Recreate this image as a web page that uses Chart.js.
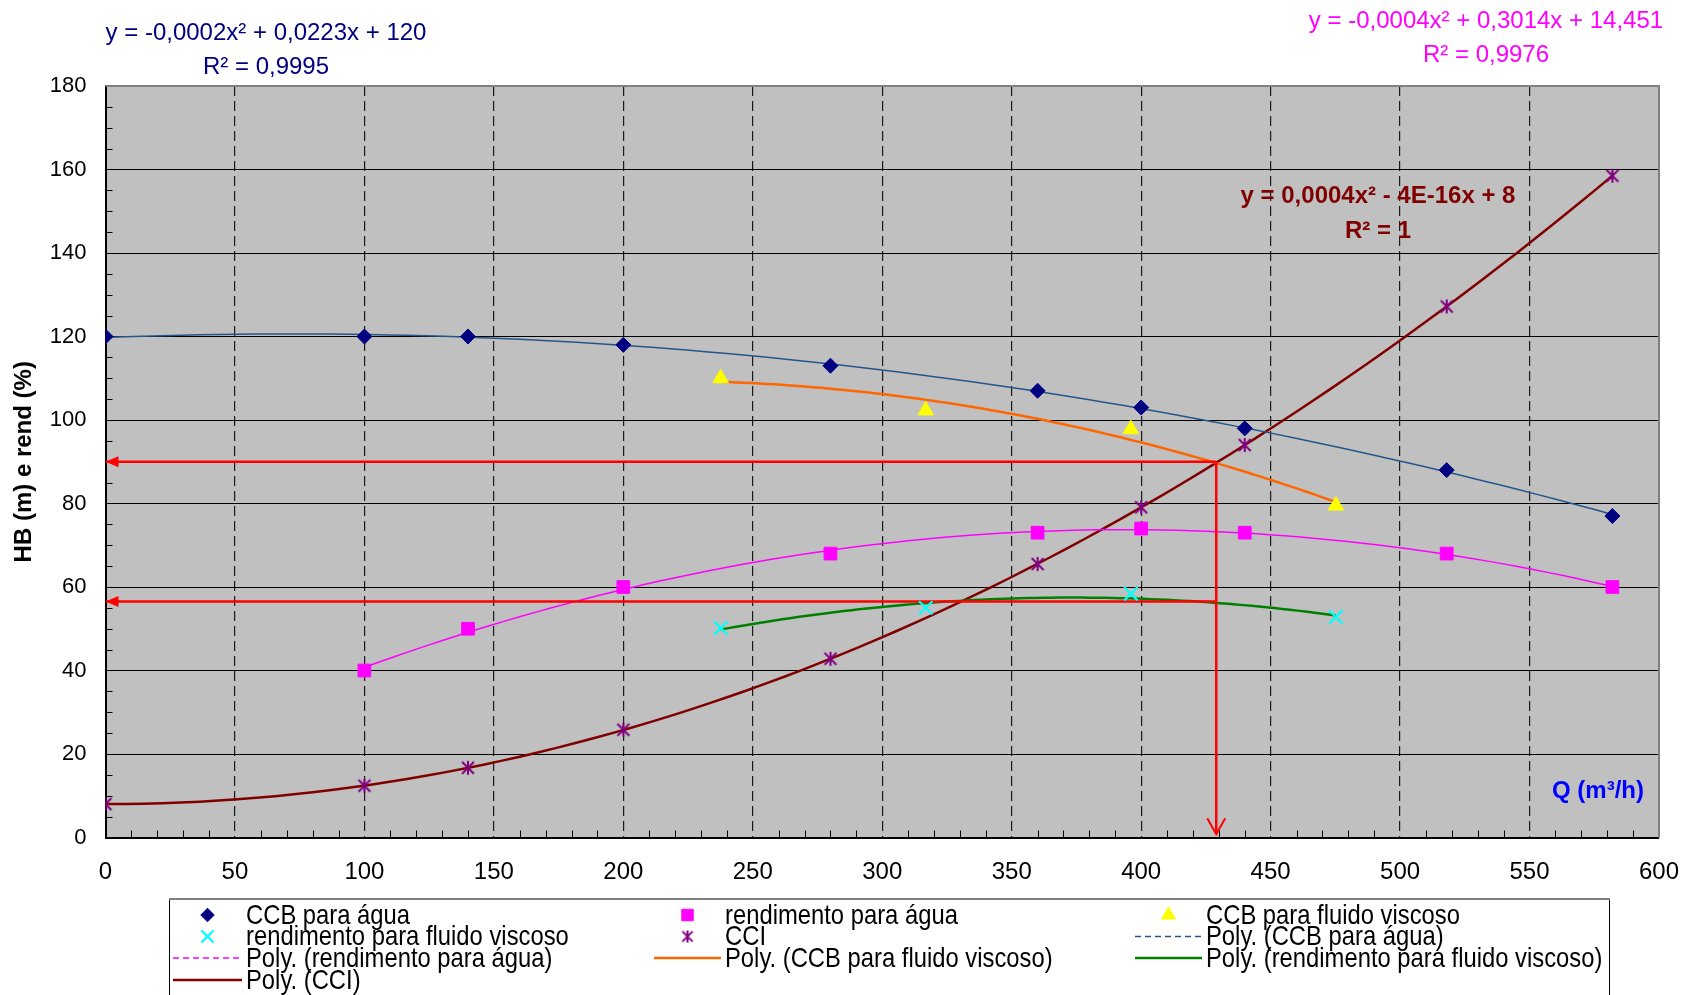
<!DOCTYPE html>
<html>
<head>
<meta charset="utf-8">
<script src="https://cdn.jsdelivr.net/npm/chart.js@4.4.1/dist/chart.umd.min.js"></script>
<style>
  html, body { margin: 0; padding: 0; background: #fff; }
  #caixa { width: 1692px; height: 995px; }
</style>
</head>
<body>
<div id="caixa"><canvas id="curvas"></canvas></div>
<script>
const qAgua = [0, 100, 140, 200, 280, 360, 400, 440, 518, 582];
const ccbAgua = [120, 120, 120, 118, 113, 107, 103, 98, 88, 77];

const qRendAgua = [100, 140, 200, 280, 360, 400, 440, 518, 582];
const rendAgua = [40, 50, 60, 68, 73, 74, 73, 68, 60];

const qVisc = [237.6, 316.8, 396, 475.2];
const ccbVisc = [110, 102.3, 97.8, 79.5];
const rendVisc = [50.2, 55, 58.4, 52.8];

const qCci = [0, 100, 140, 200, 280, 360, 400, 440, 518, 582];
const cci = [8, 12.4, 16.7, 25.8, 42.8, 65.5, 79.1, 94, 127.2, 158.5];

// ponto de operação (setas vermelhas)
const qOper = 429;
const hOper = 90;
const rendOper = 56.5;

const eqCcbAgua = ["y = -0,0002x² + 0,0223x + 120", "R² = 0,9995"];
const eqRendAgua = ["y = -0,0004x² + 0,3014x + 14,451", "R² = 0,9976"];
const eqCci = ["y = 0,0004x² - 4E-16x + 8", "R² = 1"];

const FONTE = "'Liberation Sans', Arial, sans-serif";

function pares(xs, ys) {
  return xs.map((x, i) => ({ x: x, y: ys[i] }));
}

// linha de tendência polinomial de grau 2 (mínimos quadrados), como no Excel
function ajusteQuadratico(xs, ys) {
  const n = xs.length;
  let sx = 0, sx2 = 0, sx3 = 0, sx4 = 0, sy = 0, sxy = 0, sx2y = 0;
  xs.forEach((x, i) => {
    const y = ys[i];
    sx += x; sx2 += x * x; sx3 += x * x * x; sx4 += x * x * x * x;
    sy += y; sxy += x * y; sx2y += x * x * y;
  });
  const A = [[n, sx, sx2, sy], [sx, sx2, sx3, sxy], [sx2, sx3, sx4, sx2y]];
  for (let i = 0; i < 3; i++) {
    for (let j = i + 1; j < 3; j++) {
      const f = A[j][i] / A[i][i];
      for (let k = i; k < 4; k++) A[j][k] -= f * A[i][k];
    }
  }
  const c = [0, 0, 0];
  for (let i = 2; i >= 0; i--) {
    let s = A[i][3];
    for (let k = i + 1; k < 3; k++) s -= A[i][k] * c[k];
    c[i] = s / A[i][i];
  }
  return c;
}

function tendencia(xs, ys) {
  const [a, b, c] = ajusteQuadratico(xs, ys);
  const ini = Math.min(...xs);
  const fim = Math.max(...xs);
  const pts = [];
  for (let i = 0; i <= 80; i++) {
    const x = ini + (fim - ini) * i / 80;
    pts.push({ x: x, y: a + b * x + c * x * x });
  }
  return pts;
}

function asterisco(cor, r) {
  const c = document.createElement("canvas");
  c.width = c.height = r * 2 + 4;
  const g = c.getContext("2d");
  const m = r + 2;
  const d = r * 0.85;
  g.strokeStyle = cor;
  g.lineWidth = 2;
  g.beginPath();
  g.moveTo(m - d, m - d); g.lineTo(m + d, m + d);
  g.moveTo(m + d, m - d); g.lineTo(m - d, m + d);
  g.moveTo(m, m - r); g.lineTo(m, m + r);
  g.stroke();
  return c;
}

const marcaCci = asterisco("#800080", 7);
const marcaCciLeg = asterisco("#800080", 6);

function serie(label, xs, ys, estilo) {
  return Object.assign({
    label: label,
    data: pares(xs, ys),
    showLine: false,
    naLegenda: true,
    borderWidth: 1,
  }, estilo);
}

function linhaTend(label, xs, ys, cor, largura, traco) {
  return {
    label: label,
    data: tendencia(xs, ys),
    showLine: true,
    pointRadius: 0,
    borderColor: cor,
    borderWidth: largura,
    naLegenda: true,
    tracoLegenda: traco || [],
  };
}

function seta(pts, tipo) {
  return {
    label: "",
    data: pts,
    showLine: true,
    pointRadius: 0,
    borderColor: "#FF0000",
    borderWidth: 2.5,
    seta: tipo,
  };
}

const datasets = [
  serie("CCB para água", qAgua, ccbAgua, {
    pointStyle: "rectRot", pointRadius: 7.5, backgroundColor: "#000080", borderColor: "#000080",
  }),
  serie("rendimento para água", qRendAgua, rendAgua, {
    pointStyle: "rect", pointRadius: 9, backgroundColor: "#FF00FF", borderColor: "#FF00FF",
  }),
  serie("CCB para fluido viscoso", qVisc, ccbVisc, {
    pointStyle: "triangle", pointRadius: 9, backgroundColor: "#FFFF00", borderColor: "#FFFF00",
  }),
  serie("rendimento para fluido viscoso", qVisc, rendVisc, {
    pointStyle: "crossRot", pointRadius: 9.5, borderColor: "#00FFFF", borderWidth: 2.2,
  }),
  serie("CCI", qCci, cci, {
    pointStyle: marcaCci, pointRadius: 7, borderColor: "#800080", marcaLegenda: marcaCciLeg,
  }),
  seta([{ x: qOper, y: hOper }, { x: 0, y: hOper }], "cheia"),
  seta([{ x: qOper, y: hOper }, { x: qOper, y: 0.8 }], "aberta"),
  seta([{ x: qOper, y: rendOper }, { x: 0, y: rendOper }], "cheia"),
  linhaTend("Poly. (CCB para água)", qAgua, ccbAgua, "#24568a", 1.5, [6, 4]),
  linhaTend("Poly. (rendimento para água)", qRendAgua, rendAgua, "#FF00FF", 1.5, [6, 4]),
  linhaTend("Poly. (CCB para fluido viscoso)", qVisc, ccbVisc, "#FF6600", 2.5),
  linhaTend("Poly. (rendimento para fluido viscoso)", qVisc, rendVisc, "#008000", 2.5),
  linhaTend("Poly. (CCI)", qCci, cci, "#800000", 2.5),
];

const fundoPlot = {
  id: "fundoPlot",
  beforeDraw(chart) {
    const { ctx, chartArea: a } = chart;
    ctx.save();
    ctx.fillStyle = "#C0C0C0";
    ctx.fillRect(a.left, a.top, a.right - a.left, a.bottom - a.top);
    ctx.restore();
  },
  beforeDatasetsDraw(chart) {
    // marcas secundárias nos eixos
    const { ctx, chartArea: a, scales: { x, y } } = chart;
    ctx.save();
    ctx.strokeStyle = "#000";
    ctx.lineWidth = 1;
    ctx.beginPath();
    for (let v = y.min; v <= y.max; v += 5) {
      if (v % 20 === 0) continue;
      const py = Math.round(y.getPixelForValue(v)) + 0.5;
      ctx.moveTo(a.left, py);
      ctx.lineTo(a.left + 7, py);
    }
    for (let v = x.min; v <= x.max; v += 10) {
      if (v % 50 === 0) continue;
      const px = Math.round(x.getPixelForValue(v)) + 0.5;
      ctx.moveTo(px, a.bottom);
      ctx.lineTo(px, a.bottom - 7);
    }
    ctx.stroke();
    ctx.restore();
  },
  afterDatasetsDraw(chart) {
    const { ctx, chartArea: a } = chart;
    ctx.save();
    // pontas das setas
    chart.data.datasets.forEach((ds, i) => {
      if (!ds.seta) return;
      const pts = chart.getDatasetMeta(i).data;
      const p1 = pts[pts.length - 2], p2 = pts[pts.length - 1];
      const ang = Math.atan2(p2.y - p1.y, p2.x - p1.x);
      ctx.save();
      ctx.translate(p2.x, p2.y);
      ctx.rotate(ang);
      ctx.strokeStyle = ds.borderColor;
      ctx.fillStyle = ds.borderColor;
      ctx.lineWidth = 2;
      ctx.beginPath();
      if (ds.seta === "cheia") {
        ctx.moveTo(0, 0);
        ctx.lineTo(-13, -5.5);
        ctx.lineTo(-13, 5.5);
        ctx.closePath();
        ctx.fill();
      } else {
        ctx.moveTo(-16, -9);
        ctx.lineTo(0, 0);
        ctx.lineTo(-16, 9);
        ctx.stroke();
      }
      ctx.restore();
    });
    // borda superior e direita da área do gráfico
    ctx.strokeStyle = "#808080";
    ctx.lineWidth = 2;
    ctx.beginPath();
    ctx.moveTo(a.left, a.top);
    ctx.lineTo(a.right, a.top);
    ctx.lineTo(a.right, a.bottom);
    ctx.stroke();
    ctx.restore();
  },
  afterDraw(chart) {
    const ctx = chart.ctx;
    ctx.save();
    ctx.textAlign = "center";
    ctx.textBaseline = "middle";
    ctx.font = "24px " + FONTE;
    ctx.fillStyle = "#000080";
    ctx.fillText(eqCcbAgua[0], 266, 33);
    ctx.fillText(eqCcbAgua[1], 266, 67);
    ctx.fillStyle = "#FF00FF";
    ctx.fillText(eqRendAgua[0], 1486, 21);
    ctx.fillText(eqRendAgua[1], 1486, 55);
    ctx.font = "bold 24px " + FONTE;
    ctx.fillStyle = "#800000";
    ctx.fillText(eqCci[0], 1378, 196);
    ctx.fillText(eqCci[1], 1378, 231);
    ctx.fillStyle = "#0000FF";
    ctx.fillText("Q (m³/h)", 1598, 791);
    ctx.restore();
  },
};

const legendaCaixa = {
  id: "legendaCaixa",
  afterDraw(chart) {
    const ctx = chart.ctx;
    const itens = chart.data.datasets.filter((d) => d.naLegenda);
    const x0 = 169, x1 = 1609, y0 = 899;
    const colLinha = [[173, 242], [654, 721], [1135, 1202]];
    const linhas = [915, 936.5, 958, 980];
    ctx.save();
    ctx.fillStyle = "#fff";
    ctx.fillRect(x0, y0, x1 - x0, 120);
    ctx.strokeStyle = "#000";
    ctx.lineWidth = 1;
    ctx.strokeRect(x0 + 0.5, y0 + 0.5, x1 - x0, 120);
    ctx.strokeStyle = "#808080";
    ctx.lineWidth = 2;
    ctx.beginPath();
    ctx.moveTo(x0, y0);
    ctx.lineTo(x1 + 1, y0);
    ctx.stroke();

    itens.forEach((ds, i) => {
      const col = colLinha[i % 3];
      const y = linhas[Math.floor(i / 3)];
      const meio = (col[0] + col[1]) / 2;
      if (ds.showLine) {
        ctx.save();
        ctx.strokeStyle = ds.borderColor;
        ctx.lineWidth = ds.borderWidth;
        ctx.setLineDash(ds.tracoLegenda);
        ctx.beginPath();
        ctx.moveTo(col[0], y);
        ctx.lineTo(col[1], y);
        ctx.stroke();
        ctx.restore();
      } else {
        ctx.save();
        ctx.fillStyle = ds.backgroundColor || ds.borderColor;
        ctx.strokeStyle = ds.borderColor;
        ctx.lineWidth = ds.borderWidth;
        const estilo = ds.marcaLegenda || ds.pointStyle;
        Chart.helpers.drawPoint(ctx, {
          pointStyle: estilo,
          radius: ds.pointRadius * 0.9,
          rotation: 0,
          borderWidth: ds.borderWidth,
        }, meio, y);
        ctx.restore();
      }
      // texto estreito como no original
      ctx.save();
      ctx.fillStyle = "#000";
      ctx.textAlign = "left";
      ctx.textBaseline = "middle";
      ctx.font = "28px " + FONTE;
      ctx.translate(col[1] + 4, y + 1);
      ctx.scale(0.85, 1);
      ctx.fillText(ds.label, 0, 0);
      ctx.restore();
    });
    ctx.restore();
  },
};

const config = {
  type: "scatter",
  data: { datasets: datasets },
  options: {
    responsive: true,
    maintainAspectRatio: false,
    animation: false,
    layout: {
      padding: { top: 86, right: 33, left: 0, bottom: 77.5 },
    },
    plugins: {
      legend: { display: false },
      tooltip: { enabled: false },
    },
    scales: {
      x: {
        type: "linear",
        min: 0,
        max: 600,
        afterFit(scale) {
          scale.height = 80;
          scale.paddingLeft = 0;
          scale.paddingRight = 0;
        },
        grid: {
          color: "#1a1a1a",
          lineWidth: 1.2,
          drawTicks: false,
        },
        border: { display: true, color: "#000", width: 2, dash: [10, 5] },
        ticks: {
          stepSize: 50,
          padding: 20,
          color: "#000",
          font: { family: FONTE, size: 24 },
        },
      },
      y: {
        min: 0,
        max: 180,
        afterFit(scale) {
          scale.width = 105.5;
        },
        grid: {
          color: "#000",
          lineWidth: 1,
          drawTicks: false,
        },
        border: { display: true, color: "#000", width: 2 },
        ticks: {
          stepSize: 20,
          padding: 19,
          color: "#000",
          font: { family: FONTE, size: 22 },
        },
        title: {
          display: true,
          text: "HB (m) e rend (%)",
          color: "#000",
          padding: { top: 10, bottom: 0 },
          font: { family: FONTE, size: 24, weight: "bold" },
        },
      },
    },
  },
  plugins: [fundoPlot, legendaCaixa],
};

const ctx = document.getElementById("curvas");
if (ctx) {
  new Chart(ctx, config);
} else {
  console.error("Canvas não encontrado.");
}
</script>
</body>
</html>
